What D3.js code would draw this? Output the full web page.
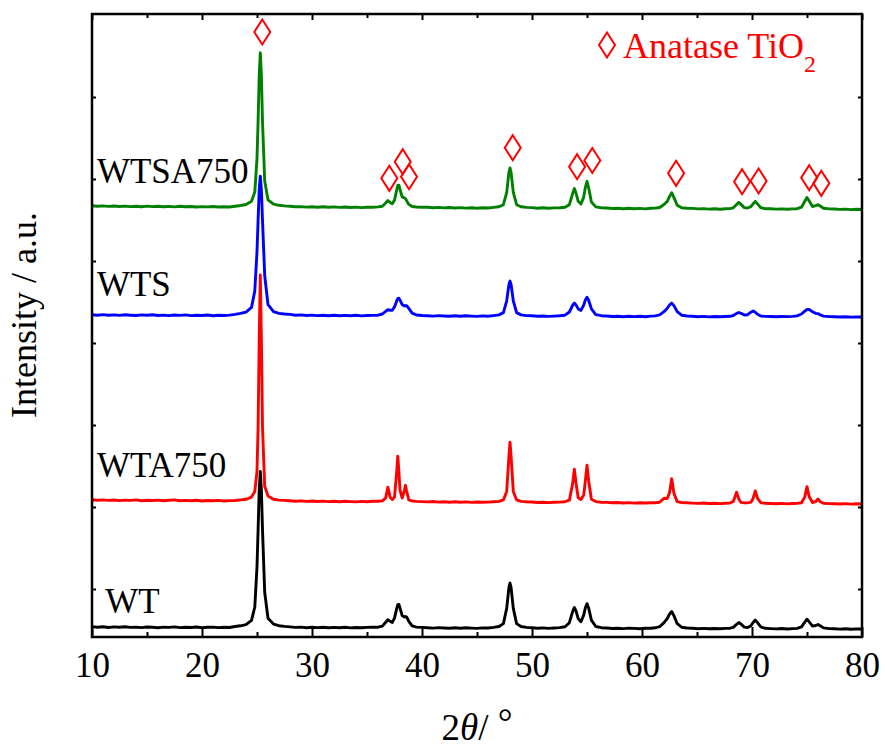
<!DOCTYPE html>
<html>
<head>
<meta charset="utf-8">
<script src="https://cdn.jsdelivr.net/npm/d3@7"></script>
<style>
  body { margin: 0; background: #fff; }
</style>
</head>
<body>
<script>
// 2theta grid shared by all four patterns (denser around the anatase reflections)
const twoTheta = [
  10, 10.5, 11, 11.5, 12, 12.5, 13, 13.5, 14, 14.5, 15, 15.5, 16, 16.5, 17, 17.5, 18, 18.5, 19, 19.5, 20, 20.5, 21, 21.5, 22, 22.5, 23, 23.5, 24,
  24.5, 24.8, 25, 25.1, 25.2, 25.3, 25.4, 25.5, 25.7, 26, 26.5, 27,
  27.5, 28, 28.5, 29, 29.5, 30, 30.5, 31, 31.5, 32, 32.5, 33, 33.5, 34, 34.5, 35, 35.5,
  36, 36.4, 36.7, 36.9, 37.1, 37.3, 37.5, 37.7, 37.8, 37.9, 38, 38.2, 38.4, 38.5, 38.6, 38.8, 39.1, 39.5, 40,
  40.5, 41, 41.5, 42, 42.5, 43, 43.5, 44, 44.5, 45, 45.5, 46, 46.5,
  47, 47.4, 47.7, 47.9, 48, 48.1, 48.3, 48.6, 49, 49.5,
  50, 50.5, 51, 51.5, 52, 52.5,
  53, 53.4, 53.7, 53.85, 54, 54.2, 54.45, 54.7, 54.85, 55, 55.15, 55.4, 55.8, 56.3,
  56.8, 57.3, 57.8, 58.3, 58.8, 59.3, 59.8, 60.3, 60.8, 61.2,
  61.6, 62, 62.3, 62.5, 62.7, 62.9, 63.2, 63.6, 64.1,
  64.6, 65.1, 65.6, 66.1, 66.6, 67.1, 67.6, 68,
  68.3, 68.6, 68.8, 69, 69.3, 69.6, 69.9, 70.1, 70.3, 70.5, 70.8, 71.2,
  71.7, 72.2, 72.7, 73.2, 73.7,
  74.1, 74.5, 74.8, 75, 75.2, 75.5, 75.8, 76, 76.2, 76.5, 77,
  77.5, 78, 78.5, 79, 79.5, 80
];

// intensities (a.u.)
const wtsa750 = [
  122, 117, 121, 116, 120, 115, 119, 114, 118, 113, 119, 114, 117, 112, 116, 111, 117, 112, 115, 110, 114, 111, 115, 110, 113, 110, 118, 125, 135,
  167, 259, 595, 968, 1422, 1653, 1422, 968, 369, 182, 139, 127,
  121, 117, 112, 114, 109, 113, 108, 112, 107, 111, 106, 110, 105, 109, 104, 108, 108,
  111, 118, 150, 174, 156, 143, 179, 280, 326, 328, 287, 210, 201, 194, 174, 136, 115, 110, 108,
  107, 103, 106, 101, 105, 100, 104, 99, 103, 98, 102, 100, 106,
  113, 133, 257, 453, 501, 453, 257, 133, 113, 106,
  104, 98, 102, 97, 101, 102,
  108, 133, 247, 294, 250, 167, 140, 209, 305, 367, 302, 160, 111, 102,
  100, 95, 98, 93, 97, 92, 96, 91, 97, 99,
  105, 135, 166, 214, 253, 206, 127, 102, 97,
  96, 91, 94, 89, 93, 88, 92, 94,
  102, 135, 156, 136, 104, 100, 113, 142, 166, 141, 103, 93,
  92, 89, 91, 87, 91,
  93, 108, 168, 205, 169, 115, 123, 134, 120, 97, 91,
  90, 86, 89, 84, 87, 85
];

const wts = [
  123, 118, 124, 117, 121, 116, 122, 118, 115, 121, 117, 122, 115, 119, 114, 120, 116, 121, 114, 118, 115, 120, 113, 118, 115, 119, 126, 136, 149,
  196, 360, 755, 1067, 1369, 1508, 1369, 1067, 515, 224, 154, 136,
  130, 126, 118, 121, 115, 119, 114, 118, 113, 117, 112, 116, 113, 117, 111, 115, 116,
  118, 130, 157, 172, 168, 168, 201, 261, 285, 287, 268, 224, 211, 214, 213, 186, 139, 120, 115,
  113, 109, 114, 110, 107, 112, 108, 113, 109, 106, 111, 108, 114,
  121, 144, 262, 424, 459, 424, 262, 144, 121, 114,
  112, 107, 110, 106, 109, 112,
  118, 150, 218, 239, 221, 181, 166, 219, 270, 297, 268, 181, 124, 113,
  110, 105, 108, 103, 107, 104, 108, 102, 109, 111,
  121, 153, 187, 220, 239, 214, 154, 118, 110,
  108, 103, 106, 101, 105, 102, 105, 107,
  115, 136, 145, 137, 120, 123, 148, 160, 147, 127, 110, 106,
  105, 102, 105, 104, 106,
  111, 130, 158, 175, 176, 152, 136, 134, 121, 109, 104,
  103, 100, 102, 99, 101, 100
];

const wta750 = [
  123, 117, 121, 116, 120, 114, 119, 116, 121, 113, 118, 115, 119, 112, 117, 121, 113, 116, 112, 117, 110, 115, 112, 116, 110, 114, 115, 121, 127,
  149, 206, 407, 848, 1716, 2371, 1716, 848, 258, 161, 128, 119,
  116, 112, 107, 111, 106, 110, 105, 109, 104, 108, 103, 107, 104, 101, 106, 103, 107,
  108, 111, 141, 249, 147, 126, 149, 401, 558, 401, 219, 140, 214, 267, 210, 122, 110, 106, 104,
  101, 105, 99, 103, 98, 102, 97, 101, 96, 100, 97, 99, 102,
  106, 121, 206, 554, 698, 554, 206, 121, 106, 102,
  100, 95, 98, 94, 97, 99,
  103, 119, 287, 429, 289, 143, 125, 169, 312, 469, 310, 128, 104, 98,
  96, 92, 95, 90, 94, 89, 93, 90, 92, 93,
  97, 138, 135, 193, 333, 188, 104, 94, 92,
  89, 86, 90, 85, 88, 84, 88, 90,
  106, 197, 131, 96, 91, 91, 98, 136, 211, 136, 93, 88,
  85, 82, 86, 81, 85,
  86, 92, 151, 254, 152, 95, 105, 130, 103, 87, 84,
  83, 80, 84, 79, 82, 80
];

const wt = [
  104, 97, 102, 95, 101, 98, 103, 96, 99, 94, 100, 97, 93, 99, 96, 101, 94, 98, 95, 100, 93, 97, 99, 94, 98, 95, 105, 112, 124,
  166, 300, 703, 1073, 1467, 1656, 1467, 1073, 447, 187, 129, 113,
  106, 101, 96, 99, 93, 97, 94, 98, 92, 96, 93, 97, 91, 95, 92, 96, 97,
  98, 109, 148, 173, 157, 146, 188, 283, 324, 326, 289, 214, 200, 206, 200, 156, 111, 99, 96,
  93, 89, 94, 90, 87, 92, 88, 93, 89, 86, 91, 90, 96,
  105, 134, 286, 494, 539, 494, 286, 134, 105, 96,
  92, 88, 91, 86, 90, 94,
  102, 143, 257, 295, 261, 184, 153, 219, 292, 333, 289, 169, 105, 93,
  90, 85, 88, 84, 89, 86, 83, 87, 88, 92,
  103, 144, 185, 229, 255, 214, 133, 98, 90,
  87, 83, 86, 82, 85, 83, 86, 88,
  96, 127, 145, 128, 99, 95, 113, 145, 169, 144, 101, 87,
  84, 81, 85, 80, 84,
  86, 102, 149, 178, 151, 109, 115, 125, 112, 91, 84,
  82, 79, 83, 78, 81, 80
];

const seriesNames = ["WTSA750", "WTS", "WTA750", "WT"];
const seriesData = [wtsa750, wts, wta750, wt];
const seriesOffsets = [4190, 3100, 1250, 0];
const seriesColors = ["#008000", "#0000ff", "#ff0000", "#000000"];

// anatase markers (2theta, level in a.u.)
const markerTheta = [25.48, 37.03, 38.25, 38.82, 48.25, 54.1, 55.48, 63.1, 69.1, 70.6, 75.2, 76.3];
const markerLevel = [6050, 4587, 4753, 4603, 4893, 4703, 4765, 4637, 4553, 4560, 4593, 4537];

const xTicks = [10, 20, 30, 40, 50, 60, 70, 80];
const xMinorTicks = [15, 25, 35, 45, 55, 65, 75];
const yTicks = [480, 1300, 2120, 2940, 3760, 4580, 5400];

// label anchors (2theta, a.u.)
const labelTheta = [10.45, 10.45, 10.45, 11.2];
const labelLevel = [4540, 3410, 1600, 240];

const serif = "Liberation Serif";

seriesData.forEach((s, i) => {
  if (s.length !== twoTheta.length) console.error(seriesNames[i], s.length, twoTheta.length);
});

const baseWidth = 885, baseHeight = 747;
const margin = { top: 14, right: 23, bottom: 110, left: 92 };
const width = baseWidth - margin.left - margin.right;
const height = baseHeight - margin.top - margin.bottom;

const x = d3.scaleLinear().domain([10, 80]).range([0, width]);
const y = d3.scaleLinear().domain([0, 6230]).range([height, 0]);

const svg = d3.select("body").append("svg")
  .attr("width", baseWidth)
  .attr("height", baseHeight)
  .attr("font-family", serif);

svg.append("rect").attr("width", baseWidth).attr("height", baseHeight).attr("fill", "#fff");

const chart = svg.append("g")
  .attr("transform", "translate(" + margin.left + "," + margin.top + ")");

// patterns
seriesData.forEach((s, k) => {
  const line = d3.line()
    .x((d, i) => x(twoTheta[i]))
    .y((d) => y(d + seriesOffsets[k]));
  chart.append("path")
    .datum(s)
    .attr("fill", "none")
    .attr("stroke", seriesColors[k])
    .attr("stroke-width", 2.9)
    .attr("stroke-linejoin", "round")
    .attr("d", line);
});

// axes, ticks pointing inwards
function styleAxis(g) {
  g.select(".domain").remove();
  g.selectAll(".tick line").attr("stroke", "#000").attr("stroke-width", 2);
}

chart.append("g")
  .attr("transform", "translate(0," + height + ")")
  .call(d3.axisBottom(x).tickValues(xTicks).tickSizeInner(-10).tickSizeOuter(0).tickPadding(15).tickFormat(d3.format("d")))
  .call(styleAxis)
  .attr("font-family", serif)
  .attr("font-size", 35)
  .call((g) => g.selectAll("text").attr("fill", "#000"));

chart.append("g")
  .attr("transform", "translate(0," + height + ")")
  .call(d3.axisBottom(x).tickValues(xMinorTicks).tickSizeInner(-5).tickSizeOuter(0).tickFormat(""))
  .call(styleAxis);

chart.append("g")
  .call(d3.axisTop(x).tickValues(xTicks).tickSizeInner(-6).tickSizeOuter(0).tickFormat(""))
  .call(styleAxis);

chart.append("g")
  .call(d3.axisTop(x).tickValues(xMinorTicks).tickSizeInner(-4).tickSizeOuter(0).tickFormat(""))
  .call(styleAxis);

chart.append("g")
  .call(d3.axisLeft(y).tickValues(yTicks).tickSizeInner(-4).tickSizeOuter(0).tickFormat(""))
  .call(styleAxis);

chart.append("g")
  .attr("transform", "translate(" + width + ",0)")
  .call(d3.axisRight(y).tickValues(yTicks).tickSizeInner(-4).tickSizeOuter(0).tickFormat(""))
  .call(styleAxis);

chart.append("rect")
  .attr("width", width)
  .attr("height", height)
  .attr("fill", "none")
  .attr("stroke", "#000")
  .attr("stroke-width", 2.5);

// anatase diamonds
const diamond = "M0,-12.5L8,0L0,12.5L-8,0Z";
chart.selectAll(".marker")
  .data(markerTheta)
  .enter()
  .append("path")
  .attr("class", "marker")
  .attr("d", diamond)
  .attr("transform", (d, i) => "translate(" + x(d) + "," + y(markerLevel[i]) + ")")
  .attr("fill", "none")
  .attr("stroke", "#ff0000")
  .attr("stroke-width", 2);

// sample labels
chart.selectAll(".slabel")
  .data(seriesNames)
  .enter()
  .append("text")
  .attr("class", "slabel")
  .attr("x", (d, i) => x(labelTheta[i]))
  .attr("y", (d, i) => y(labelLevel[i]))
  .attr("font-family", serif)
  .attr("font-size", 35)
  .attr("fill", "#000")
  .text((d) => d);

// legend
svg.append("path")
  .attr("d", diamond)
  .attr("transform", "translate(607,45)")
  .attr("fill", "none")
  .attr("stroke", "#ff0000")
  .attr("stroke-width", 2);

const legend = svg.append("text")
  .attr("x", 623)
  .attr("y", 58)
  .attr("font-family", serif)
  .attr("font-size", 36)
  .attr("fill", "#ff0000");
legend.append("tspan").text("Anatase TiO");
legend.append("tspan").attr("dy", 14).attr("font-size", 24).text("2");

// axis titles
const xt = svg.append("text")
  .attr("x", margin.left + width / 2)
  .attr("y", 740)
  .attr("text-anchor", "middle")
  .attr("font-family", serif)
  .attr("font-size", 37)
  .attr("fill", "#000");
xt.append("tspan").text("2");
xt.append("tspan").attr("font-style", "italic").text("θ");
xt.append("tspan").text("/ ");
xt.append("tspan").attr("dy", -5).text("°");

svg.append("text")
  .attr("transform", "translate(36,315) rotate(-90)")
  .attr("text-anchor", "middle")
  .attr("font-family", serif)
  .attr("font-size", 36)
  .attr("fill", "#000")
  .text("Intensity / a.u.");
</script>
</body>
</html>
